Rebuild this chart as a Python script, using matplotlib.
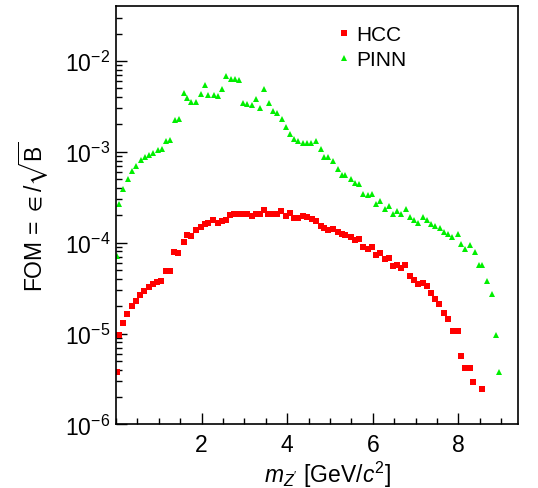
import numpy as np
import matplotlib
matplotlib.use('Agg')
import matplotlib.pyplot as plt
from matplotlib.ticker import LogLocator, NullFormatter, MultipleLocator

plt.rcParams['font.family'] = ['Liberation Sans', 'DejaVu Sans']
plt.rcParams['mathtext.fontset'] = 'custom'
plt.rcParams['mathtext.rm'] = 'Liberation Sans'
plt.rcParams['mathtext.it'] = 'Liberation Sans:italic'
plt.rcParams['mathtext.fallback'] = 'stixsans'

# HCC: mass [GeV/c^2] and log10(FOM)
hcc_mass = [0.02, 0.07, 0.16, 0.26, 0.38, 0.47, 0.56, 0.66, 0.78, 0.87, 0.96, 1.06, 1.18, 1.27,
            1.36, 1.46, 1.58, 1.67, 1.76, 1.86, 1.98, 2.07, 2.16, 2.26, 2.38, 2.47, 2.56, 2.66,
            2.75, 2.87, 2.96, 3.06, 3.18, 3.27, 3.36, 3.46, 3.55, 3.67, 3.76, 3.86, 3.98, 4.07,
            4.16, 4.26, 4.38, 4.47, 4.59, 4.68, 4.78, 4.87, 4.96, 5.06, 5.18, 5.27, 5.36, 5.48,
            5.58, 5.67, 5.76, 5.88, 5.98, 6.07, 6.16, 6.28, 6.38, 6.47, 6.56, 6.66, 6.75, 6.87,
            6.96, 7.06, 7.18, 7.27, 7.36, 7.46, 7.55, 7.67, 7.76, 7.88, 7.98, 8.07, 8.16, 8.28,
            8.35, 8.56]
hcc_logfom = [-5.42, -5.02, -4.88, -4.78, -4.70, -4.64, -4.58, -4.53, -4.49, -4.46, -4.43, -4.42,
              -4.31, -4.31, -4.10, -4.11, -3.99, -3.92, -3.93, -3.86, -3.83, -3.80, -3.78, -3.75,
              -3.78, -3.76, -3.75, -3.70, -3.69, -3.69, -3.69, -3.68, -3.71, -3.68, -3.68, -3.64,
              -3.68, -3.68, -3.69, -3.65, -3.71, -3.67, -3.73, -3.73, -3.71, -3.72, -3.74, -3.76,
              -3.82, -3.84, -3.86, -3.85, -3.88, -3.90, -3.92, -3.94, -3.97, -3.96, -4.05, -4.07,
              -4.05, -4.14, -4.11, -4.18, -4.17, -4.26, -4.25, -4.28, -4.25, -4.37, -4.41, -4.45,
              -4.44, -4.48, -4.55, -4.62, -4.67, -4.77, -4.84, -4.97, -4.97, -5.25, -5.38, -5.38,
              -5.53, -5.61]

# PINN
pinn_mass = [0.02, 0.07, 0.16, 0.28, 0.38, 0.47, 0.59, 0.68, 0.78, 0.87, 0.99, 1.08, 1.18, 1.27,
             1.39, 1.48, 1.58, 1.67, 1.76, 1.88, 1.98, 2.07, 2.16, 2.28, 2.38, 2.47, 2.56, 2.68,
             2.78, 2.87, 2.96, 3.06, 3.18, 3.27, 3.36, 3.46, 3.58, 3.67, 3.76, 3.88, 3.98, 4.07,
             4.16, 4.26, 4.38, 4.47, 4.56, 4.68, 4.78, 4.87, 4.96, 5.08, 5.18, 5.27, 5.36, 5.48,
             5.58, 5.67, 5.76, 5.88, 5.98, 6.07, 6.16, 6.28, 6.38, 6.47, 6.56, 6.66, 6.78, 6.87,
             6.96, 7.06, 7.18, 7.27, 7.36, 7.46, 7.58, 7.67, 7.76, 7.86, 7.98, 8.07, 8.16, 8.28,
             8.38, 8.47, 8.56, 8.68, 8.78, 8.87, 8.96]
pinn_logfom = [-4.15, -3.58, -3.41, -3.30, -3.21, -3.16, -3.09, -3.06, -3.04, -3.01, -2.98,
               -2.97, -2.88, -2.87, -2.65, -2.64, -2.35, -2.41, -2.45, -2.45, -2.36,
               -2.27, -2.38, -2.38, -2.39, -2.31, -2.17, -2.20, -2.20, -2.21, -2.46,
               -2.47, -2.49, -2.42, -2.52, -2.31, -2.46, -2.55, -2.57, -2.64, -2.73,
               -2.81, -2.86, -2.88, -2.90, -2.90, -2.90, -2.88,
               -2.97, -3.06, -3.06, -3.10, -3.19, -3.26, -3.26, -3.30, -3.34, -3.36,
               -3.46, -3.48, -3.47, -3.57, -3.54, -3.63, -3.60, -3.68, -3.65, -3.68,
               -3.63, -3.72, -3.75, -3.78, -3.72, -3.75, -3.79, -3.82, -3.84, -3.88,
               -3.91, -3.94, -3.90, -4.02, -4.07, -4.03, -4.10, -4.25, -4.25, -4.42,
               -4.57, -5.02, -5.42]

fig = plt.figure(figsize=(5.38, 4.89), dpi=100)
ax = fig.add_axes([0.2156, 0.130, 0.747, 0.855])

ax.plot(hcc_mass, 10.0 ** np.array(hcc_logfom), 's', color='#ff0000', markersize=4.6,
        markeredgewidth=0, label='HCC')
ax.plot(pinn_mass, 10.0 ** np.array(pinn_logfom), '^', color='#00ee00', markersize=4.6,
        markeredgewidth=0, label='PINN')

ax.set_yscale('log')
ax.set_xlim(0, 9.39)
ax.set_ylim(1e-6, 10 ** -1.40)

ax.xaxis.set_major_locator(MultipleLocator(2))
ax.xaxis.set_minor_locator(MultipleLocator(0.5))
ax.yaxis.set_major_locator(LogLocator(base=10, numticks=10))
ax.yaxis.set_minor_locator(LogLocator(base=10, subs=np.arange(2, 10), numticks=20))
ax.yaxis.set_minor_formatter(NullFormatter())
ax.set_xticks([2, 4, 6, 8])

ax.tick_params(which='both', direction='in', top=False, right=False, labelsize=16.5, width=1)
ax.tick_params(axis='x', which='major', length=8, pad=6)
ax.tick_params(axis='x', which='minor', length=4)
ax.tick_params(axis='y', which='major', length=8, pad=4)
ax.tick_params(axis='y', which='minor', length=4)
for s in ax.spines.values():
    s.set_linewidth(1.2)

ax.set_xlabel(r'$m_{Z^{\prime}}$ [GeV/$c^2$]', fontsize=16.5, labelpad=2)
ax.xaxis.label.set_horizontalalignment('right')
ax.xaxis.label.set_x(0.685)
ax.set_ylabel(r'FOM = $\in/\sqrt{\mathrm{B}}$', fontsize=16.5, labelpad=10)

ax.legend(loc='upper left', bbox_to_anchor=(0.5, 1.0), frameon=False, fontsize=15,
          handletextpad=0.2, markerscale=1.0, labelspacing=0.3, handlelength=0.8)

fig.savefig('out.png', dpi=100)
